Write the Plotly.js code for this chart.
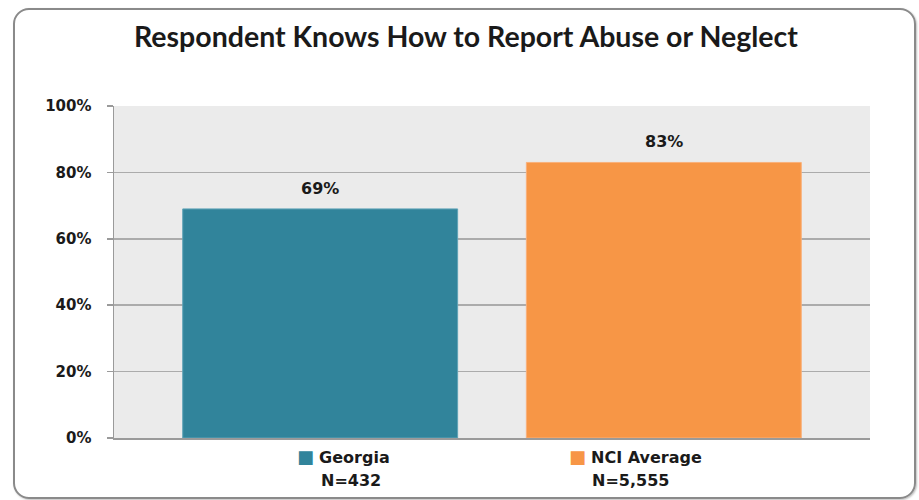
<!DOCTYPE html>
<html>
<head>
<meta charset="utf-8">
<script src="https://cdn.plot.ly/plotly-3.0.1.min.js"></script>
<style>
  html, body { margin: 0; padding: 0; background: #ffffff; }
  #wrap { position: relative; width: 919px; height: 500px; overflow: hidden; }
  #chart { position: absolute; left: 0; top: 0; width: 919px; height: 500px; }
  #frame { position: absolute; left: 13px; top: 8px; width: 899px; height: 487px;
           border: 2px solid #8a8a8a; border-radius: 16px; pointer-events: none;
           box-shadow: 1px 1px 2px rgba(0,0,0,0.25); }
</style>
</head>
<body>
<div id="wrap">
  <div id="chart"></div>
  <div id="frame"></div>
</div>
<script>
// ---- data ----
const categories = ["Georgia", "NCI Average"];
const values = [0.69, 0.83];
const sampleSizes = ["N=432", "N=5,555"];
const barColors = ["#31849B", "#F79646"];
const yTickVals = [0, 0.2, 0.4, 0.6, 0.8, 1.0];
const chartTitle = "Respondent Knows How to Report Abuse or Neglect";

// ---- layout constants (label placement under the plot, paper fractions) ----
const legendLeftX = [0.2394, 0.599];
const nLabelCenterX = [0.314, 0.683];

const textColor = "#1a1a1a";
const boldFont = "DejaVu Sans, Verdana, sans-serif";

const trace = {
  type: "bar",
  x: categories,
  y: values,
  width: 0.8,
  marker: { color: barColors, line: { color: ["#5ea3b6", "#f9b07a"], width: 1 } },
  hoverinfo: "skip",
  showlegend: false
};

const annotations = [];
// value labels above bars
categories.forEach((c, i) => {
  annotations.push({
    x: c, y: values[i], xref: "x", yref: "y",
    text: "<b>" + Math.round(values[i] * 100) + "%</b>",
    showarrow: false, yanchor: "bottom", yshift: 9,
    font: { family: boldFont, size: 16, color: textColor }
  });
});
// legend-like labels below
categories.forEach((c, i) => {
  annotations.push({
    x: legendLeftX[i], y: 0, xref: "paper", yref: "paper",
    xanchor: "left", yanchor: "middle", yshift: -18,
    text: "<span style='color:" + barColors[i] + ";font-size:18px'>■</span> <b>" + c + "</b>",
    showarrow: false,
    font: { family: boldFont, size: 16, color: textColor }
  });
  annotations.push({
    x: nLabelCenterX[i], y: 0, xref: "paper", yref: "paper",
    xanchor: "center", yanchor: "middle", yshift: -42,
    text: "<b>" + sampleSizes[i] + "</b>",
    showarrow: false,
    font: { family: boldFont, size: 16, color: textColor }
  });
});

const layout = {
  width: 919, height: 500,
  margin: { l: 114, r: 49, t: 106, b: 62 },
  paper_bgcolor: "rgba(0,0,0,0)",
  plot_bgcolor: "#EBEBEB",
  title: {
    text: "<b>" + chartTitle + "</b>",
    x: 0.507, xref: "container", xanchor: "center",
    y: 0.926, yref: "container", yanchor: "middle",
    font: { family: "Lato, Open Sans, sans-serif", size: 28.5, color: textColor }
  },
  xaxis: {
    type: "category",
    range: [-0.6, 1.6],
    showticklabels: false,
    ticks: "",
    showgrid: false,
    zeroline: false,
    showline: true, linecolor: "#9a9a9a", linewidth: 1.5,
    fixedrange: true
  },
  yaxis: {
    range: [0, 1],
    tickvals: yTickVals,
    tickformat: ".0%",
    ticks: "outside", ticklen: 6, tickcolor: "#9a9a9a", tickwidth: 1.5,
    ticklabelstandoff: 12,
    showgrid: true, gridcolor: "#ababab", gridwidth: 1.5,
    zeroline: false,
    showline: true, linecolor: "#9a9a9a", linewidth: 1.5,
    tickfont: { family: boldFont, size: 15, color: textColor, weight: "bold" },
    fixedrange: true
  },
  annotations: annotations,
  showlegend: false
};

Plotly.newPlot("chart", [trace], layout, { displayModeBar: false, staticPlot: true });
</script>
</body>
</html>
